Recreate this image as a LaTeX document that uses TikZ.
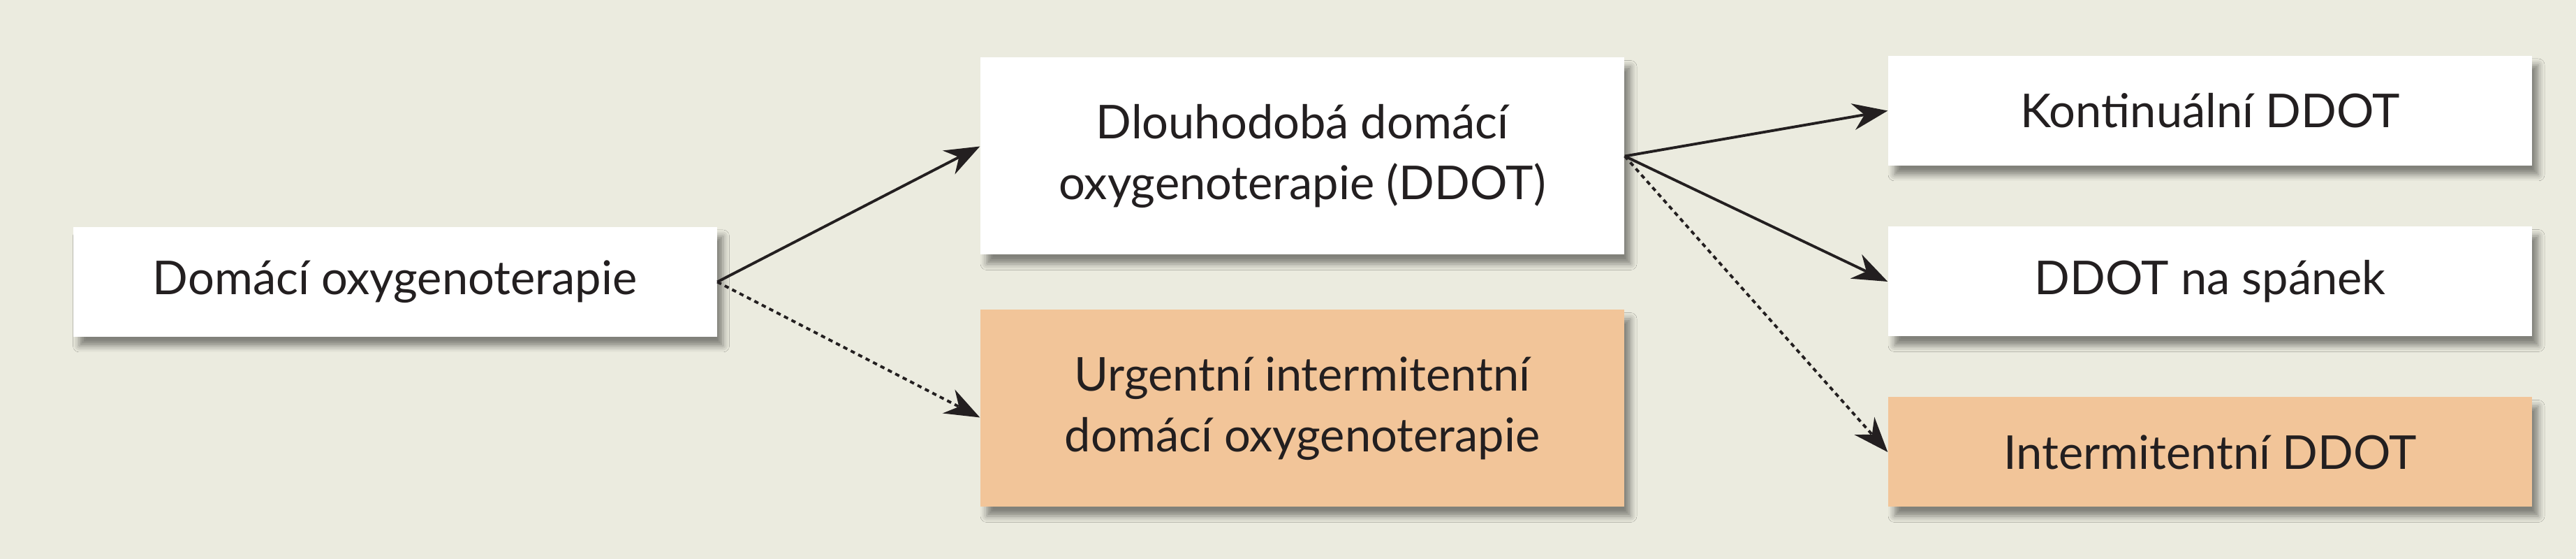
\documentclass[tikz,border=0pt]{standalone}
\usepackage{fontspec}
\setmainfont{Lato}
\usetikzlibrary{arrows.meta,shadows.blur}
\definecolor{pozadi}{HTML}{EBEBDF}
\definecolor{oranzova}{HTML}{F2C599}
\definecolor{tmava}{HTML}{231F20}

\begin{document}
\begin{tikzpicture}[
  box/.style={fill=white,minimum width=9.22cm,align=center,text=tmava,
    font=\fontsize{19}{24.7}\selectfont,
    blur shadow={shadow xshift=0.9mm,shadow yshift=-1.3mm,shadow blur radius=0.9mm,shadow opacity=45}},
  box1/.style={box,minimum height=1.57cm},
  box2/.style={box,minimum height=2.82cm},
  sipka/.style={-{Stealth[length=5mm,width=3.8mm]},line width=1.1pt,draw=tmava},
  carky/.style={sipka,dash pattern=on 1.8pt off 1.6pt}]
\fill[pozadi] (0,0) rectangle (36.89,8);
\node[box1] (domaci) at (5.655,3.965) {Domácí oxygenoterapie};
\node[box2] (dlouh) at (18.65,5.765) {Dlouhodobá domácí\\oxygenoterapie (DDOT)};
\node[box2,fill=oranzova] (urgent) at (18.65,2.155) {Urgentní intermitentní\\domácí oxygenoterapie};
\node[box1] (kont) at (31.65,6.415) {Kontinuální DDOT};
\node[box1] (spanek) at (31.65,3.97) {DDOT na spánek};
\node[box1,fill=oranzova] (interm) at (31.65,1.53) {Intermitentní DDOT};
\draw[sipka] (domaci.east) -- ([yshift=1.4mm]dlouh.west);
\draw[carky] (domaci.east) -- ([yshift=-1.3mm]urgent.west);
\draw[sipka] (dlouh.east) -- (kont.west);
\draw[sipka] (dlouh.east) -- (spanek.west);
\draw[carky] (dlouh.east) -- (interm.west);
\end{tikzpicture}
\end{document}
